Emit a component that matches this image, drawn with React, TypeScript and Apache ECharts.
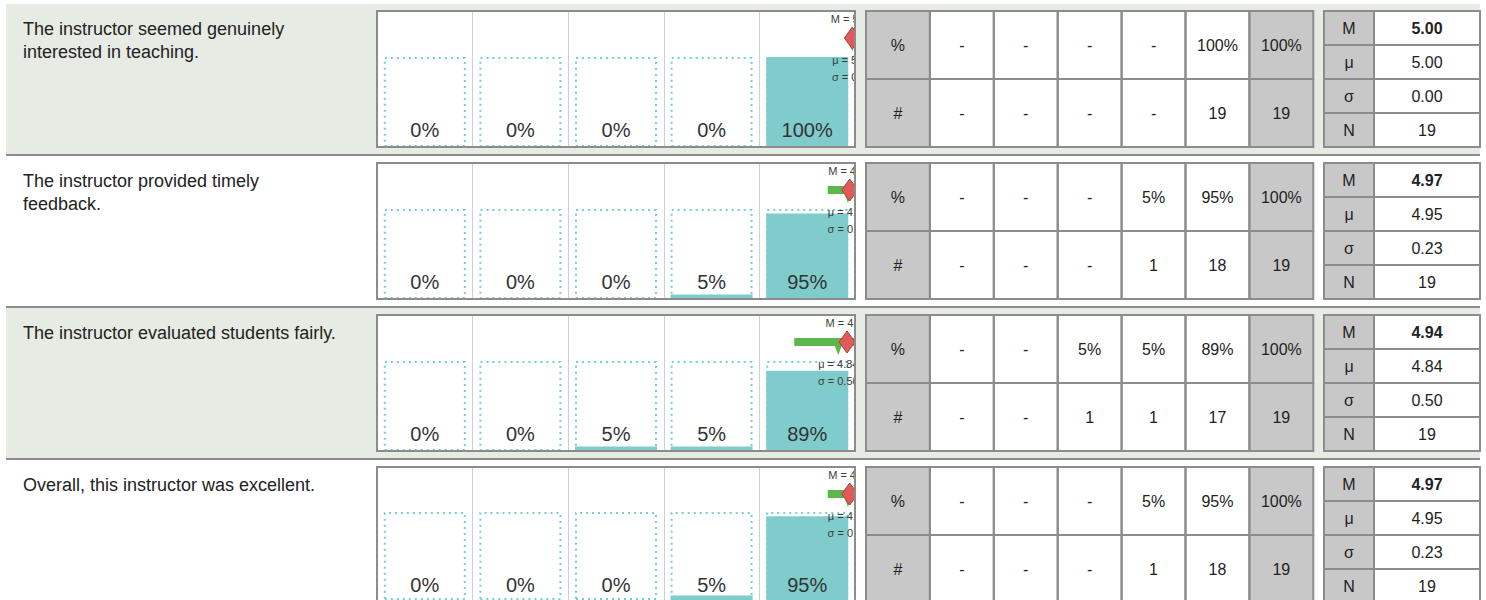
import React, { useEffect, useRef } from "react";
import * as echarts from "echarts";

// ---------- data ----------
const questions = [
  "The instructor seemed genuinely\ninterested in teaching.",
  "The instructor provided timely\nfeedback.",
  "The instructor evaluated students fairly.",
  "Overall, this instructor was excellent.",
];
const ratingCategories = ["1", "2", "3", "4", "5"];
const percentRows = [
  [0, 0, 0, 0, 100],
  [0, 0, 0, 5, 95],
  [0, 0, 5, 5, 89],
  [0, 0, 0, 5, 95],
];
const countRows = [
  [0, 0, 0, 0, 19],
  [0, 0, 0, 1, 18],
  [0, 0, 1, 1, 17],
  [0, 0, 0, 1, 18],
];
const fullScale = [100, 100, 100, 100, 100];
const totalPercent = [100, 100, 100, 100];
const totalCount = [19, 19, 19, 19];
const medians = [5.0, 4.97, 4.94, 4.97];
const means = [5.0, 4.95, 4.84, 4.95];
const stdDevs = [0.0, 0.23, 0.5, 0.23];
const responses = [19, 19, 19, 19];
const statLabels = ["M", "μ", "σ", "N"];

// ---------- layout ----------
const FONT = '"Liberation Sans", Arial, Helvetica, sans-serif';
const PITCH = 152;
const BG_X = 6;
const BG_W = 1474;
const BG_TOP = 4;
const BG_H = 150;
const CH_X = 377;
const CH_Y = 11;
const CH_W = 478;
const CH_H = 136;
const TB_X = 866;
const TB_CW = 63.9;
const TB_RH = 68;
const ST_X = 1324;
const ST_LW = 50;
const ST_VW = 106;
const ST_RH = 34;
const GREEN_BG = "#e6ebe3";
const BORDER = "#8c8c8c";
const CELL_GREY = "#c8c8c8";

function fmt2(v: number) {
  return v.toFixed(2);
}

function buildOption() {
  const rows = questions.map((_, k) => k);
  const grid: any[] = [];
  const xAxis: any[] = [];
  const yAxis: any[] = [];
  const series: any[] = [];
  const graphics: any[] = [];

  rows.forEach((k) => {
    const dy = k * PITCH;
    grid.push({
      left: CH_X,
      top: CH_Y + dy,
      width: CH_W,
      height: CH_H,
      show: true,
      backgroundColor: "#ffffff",
      borderWidth: 0,
    });
    xAxis.push({
      type: "category",
      gridIndex: k,
      data: ratingCategories,
      boundaryGap: true,
      axisLine: { show: false },
      axisTick: { show: false },
      axisLabel: { show: false },
      splitLine: { show: true, interval: 0, lineStyle: { color: "#cfcfcf", width: 1 } },
    });
    xAxis.push({
      type: "value",
      gridIndex: k,
      min: -0.4,
      max: 5.03,
      show: false,
      splitLine: { show: false },
    });
    yAxis.push({
      type: "value",
      gridIndex: k,
      min: 0,
      max: 151,
      show: false,
      splitLine: { show: false },
    });

    series.push({
      type: "bar",
      xAxisIndex: 2 * k,
      yAxisIndex: k,
      data: percentRows[k],
      barWidth: 82,
      barGap: "-100%",
      silent: true,
      z: 2,
      itemStyle: { color: "#80cccc" },
    });
    series.push({
      type: "bar",
      xAxisIndex: 2 * k,
      yAxisIndex: k,
      data: fullScale,
      barWidth: 82,
      barGap: "-100%",
      silent: true,
      z: 3,
      itemStyle: {
        color: "rgba(0,0,0,0)",
        borderColor: "#76cdd2",
        borderWidth: 2,
        borderType: [2, 4],
      },
      label: {
        show: true,
        position: ["50%", 73],
        align: "center",
        verticalAlign: "middle",
        fontSize: 20,
        fontFamily: FONT,
        color: "#333333",
        formatter: (p: any) => percentRows[k][p.dataIndex] + "%",
      },
    });
    series.push({
      type: "custom",
      xAxisIndex: 2 * k + 1,
      yAxisIndex: k,
      clip: true,
      silent: true,
      z: 4,
      data: [[medians[k], means[k], stdDevs[k]]],
      renderItem: (params: any, api: any) => {
        const M = api.value(0);
        const mu = api.value(1);
        const sd = api.value(2);
        const top = params.coordSys.y;
        const xM = api.coord([M, 0])[0];
        const xMu = api.coord([mu, 0])[0];
        const xLo = api.coord([mu - sd, 0])[0];
        const xHi = api.coord([mu + sd, 0])[0];
        const yMark = top + 27;
        const txt = (t: string, x: number, y: number) => ({
          type: "text",
          x,
          y,
          style: {
            text: t,
            fill: "#3c3c3c",
            fontSize: 11,
            fontFamily: FONT,
            align: "center",
            verticalAlign: "middle",
          },
        });
        return {
          type: "group",
          children: [
            {
              type: "rect",
              shape: { x: xLo, y: yMark - 4, width: Math.max(xHi - xLo, 0), height: 8 },
              style: { fill: "#5cb84c" },
            },
            {
              type: "polygon",
              shape: { points: [[xMu - 5, yMark], [xMu + 5, yMark], [xMu, yMark + 13]] },
              style: { fill: "#5cb84c" },
            },
            {
              type: "polygon",
              shape: { points: [[xM, yMark - 11], [xM + 8, yMark], [xM, yMark + 11], [xM - 8, yMark]] },
              style: { fill: "#e05a5a", stroke: "#b03c3c", lineWidth: 1 },
            },
            txt("M = " + fmt2(M), xM, top + 8),
            txt("μ = " + fmt2(mu), xMu, top + 49),
            txt("σ = " + fmt2(sd), xMu, top + 66),
          ],
        };
      },
    });

    // row background + separator
    const bg = k % 2 === 0 ? GREEN_BG : "#ffffff";
    graphics.push({
      type: "rect",
      z: -1,
      silent: true,
      shape: { x: BG_X, y: BG_TOP + dy, width: BG_W, height: BG_H },
      style: { fill: bg },
    });
    graphics.push({
      type: "line",
      z: -1,
      silent: true,
      shape: { x1: BG_X, y1: BG_TOP + BG_H + 1 + dy, x2: BG_X + BG_W, y2: BG_TOP + BG_H + 1 + dy },
      style: { stroke: BORDER, lineWidth: 2 },
    });
    // question label
    graphics.push({
      type: "text",
      z: 50,
      silent: true,
      x: 23,
      y: 17 + dy,
      style: {
        text: questions[k],
        font: "18px " + FONT,
        fill: "#222222",
        lineHeight: 23,
        textAlign: "left",
        textVerticalAlign: "top",
        align: "left",
        verticalAlign: "top",
      },
    });
    // cover for marker overflow (gap between chart and table)
    graphics.push({
      type: "rect",
      z: 40,
      silent: true,
      shape: { x: CH_X + CH_W + 2, y: CH_Y + dy - 2, width: 8, height: CH_H + 4 },
      style: { fill: bg },
    });
    // chart box border
    graphics.push({
      type: "rect",
      z: 50,
      silent: true,
      shape: { x: CH_X, y: CH_Y + dy, width: CH_W, height: CH_H },
      style: { fill: "none", stroke: BORDER, lineWidth: 2 },
    });

    // distribution table
    const tableRows = [
      ["%", ...percentRows[k].map((v) => (v ? v + "%" : "-")), totalPercent[k] + "%"],
      ["#", ...countRows[k].map((v) => (v ? String(v) : "-")), String(totalCount[k])],
    ];
    const fills: any[] = [];
    const strokes: any[] = [];
    const texts: any[] = [];
    tableRows.forEach((row, r) => {
      row.forEach((t, c) => {
        const x = TB_X + c * TB_CW;
        const y = CH_Y + dy + r * TB_RH;
        const grey = c === 0 || c === row.length - 1;
        fills.push({
          type: "rect", z: 50, silent: true,
          shape: { x, y, width: TB_CW, height: TB_RH },
          style: { fill: grey ? CELL_GREY : "#ffffff" },
        });
        strokes.push({
          type: "rect", z: 51, silent: true,
          shape: { x, y, width: TB_CW, height: TB_RH },
          style: { fill: "none", stroke: BORDER, lineWidth: 2 },
        });
        texts.push({
          type: "text", z: 52, silent: true,
          x: x + TB_CW / 2, y: y + TB_RH / 2,
          style: {
            text: t, font: "16px " + FONT, fill: "#222222",
            textAlign: "center", textVerticalAlign: "middle", align: "center", verticalAlign: "middle",
          },
        });
      });
    });
    // stats table
    const statValues = [fmt2(medians[k]), fmt2(means[k]), fmt2(stdDevs[k]), String(responses[k])];
    statLabels.forEach((lab, r) => {
      const y = CH_Y + dy + r * ST_RH;
      fills.push({
        type: "rect", z: 50, silent: true,
        shape: { x: ST_X, y, width: ST_LW, height: ST_RH },
        style: { fill: CELL_GREY },
      });
      fills.push({
        type: "rect", z: 50, silent: true,
        shape: { x: ST_X + ST_LW, y, width: ST_VW, height: ST_RH },
        style: { fill: "#ffffff" },
      });
      strokes.push({
        type: "rect", z: 51, silent: true,
        shape: { x: ST_X, y, width: ST_LW, height: ST_RH },
        style: { fill: "none", stroke: BORDER, lineWidth: 2 },
      });
      strokes.push({
        type: "rect", z: 51, silent: true,
        shape: { x: ST_X + ST_LW, y, width: ST_VW, height: ST_RH },
        style: { fill: "none", stroke: BORDER, lineWidth: 2 },
      });
      texts.push({
        type: "text", z: 52, silent: true,
        x: ST_X + ST_LW / 2, y: y + ST_RH / 2,
        style: {
          text: lab, font: "16px " + FONT, fill: "#222222",
          textAlign: "center", textVerticalAlign: "middle", align: "center", verticalAlign: "middle",
        },
      });
      texts.push({
        type: "text", z: 52, silent: true,
        x: ST_X + ST_LW + ST_VW / 2, y: y + ST_RH / 2,
        style: {
          text: statValues[r], font: (r === 0 ? "bold " : "") + "16px " + FONT, fill: "#222222",
          textAlign: "center", textVerticalAlign: "middle", align: "center", verticalAlign: "middle",
        },
      });
    });
    graphics.push(...fills, ...strokes, ...texts);
  });

  return {
    animation: false,
    backgroundColor: "#ffffff",
    grid,
    xAxis,
    yAxis,
    series,
    graphic: { elements: graphics },
  };
}

export default function App() {
  const ref = useRef<HTMLDivElement>(null);
  useEffect(() => {
    if (!ref.current) return;
    const chart = echarts.init(ref.current, undefined, { renderer: "svg" });
    chart.setOption(buildOption() as any);
    return () => chart.dispose();
  }, []);
  return (
    <div
      ref={ref}
      style={{ position: "fixed", left: 0, top: 0, width: 1486, height: 600 }}
    />
  );
}
